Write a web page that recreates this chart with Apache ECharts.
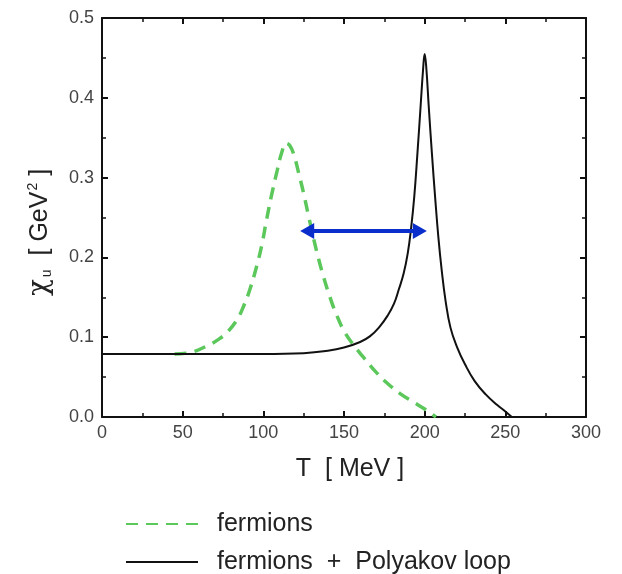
<!DOCTYPE html>
<html>
<head>
<meta charset="utf-8">
<script src="https://cdn.jsdelivr.net/npm/echarts@6/dist/echarts.min.js"></script>
<style>html,body{margin:0;padding:0;background:#fff}#c{width:622px;height:574px}</style>
</head>
<body>
<div id="c"></div>
<script>
// T [MeV], chi_u [GeV^2]
const fermionsT = [45,55,65,72,78,84,88,92,96,99,102,105,108.5,111.5,114,116.5,119,122,125,128,131,134,137,141,145,150,156,162,170,177,185,192,200,207];
const fermionsChi = [0.079,0.081,0.089,0.097,0.107,0.123,0.140,0.162,0.190,0.215,0.247,0.277,0.308,0.332,0.343,0.340,0.328,0.305,0.280,0.252,0.225,0.200,0.178,0.152,0.130,0.108,0.090,0.075,0.056,0.042,0.029,0.020,0.010,0.0];
const polyakovT = [0,50,100,125,140,150,160,166,172,177,181,184,187,189.5,191.5,193.5,195.5,197.5,199,200,201,202.5,204.5,206.5,208.5,210.5,213,216,220,225,231,238,245,250,254];
const polyakovChi = [0.079,0.079,0.079,0.080,0.083,0.087,0.094,0.101,0.113,0.127,0.142,0.160,0.180,0.205,0.235,0.275,0.330,0.390,0.435,0.455,0.438,0.390,0.330,0.275,0.225,0.185,0.145,0.112,0.088,0.066,0.045,0.028,0.015,0.007,0.0];
const arrowT = [127.2, 197.0];
const arrowChi = 0.233;
const seriesNames = ['fermions', 'fermions  +  Polyakov loop'];

const zip = (xs, ys) => xs.map((x, i) => [x, ys[i]]);
const font = "'Liberation Sans', Arial, Helvetica, sans-serif";
const chart = echarts.init(document.getElementById('c'));

const axisCommon = {
  axisLine: {show: true, onZero: false, lineStyle: {color: '#111', width: 2}},
  axisTick: {show: true, inside: true, length: 6, lineStyle: {color: '#111', width: 2}},
  minorTick: {show: true, splitNumber: 2, length: 4, lineStyle: {color: '#111', width: 1.5}},
  splitLine: {show: false}
};

chart.setOption({
  animation: false,
  backgroundColor: '#fff',
  grid: {left: 102, right: 36, top: 18, bottom: 157, containLabel: false},
  legend: {
    data: seriesNames,
    orient: 'vertical',
    left: 120,
    top: 506,
    height: 68,
    itemWidth: 72,
    itemHeight: 24,
    itemGap: 12,
    itemStyle: {opacity: 0},
    textStyle: {fontFamily: font, fontSize: 25, lineHeight: 26, color: '#222', padding: [0, 0, 0, 14]}
  },
  xAxis: [
    Object.assign({
      type: 'value', min: 0, max: 300, interval: 50, position: 'bottom',
      name: 'T  [ MeV ]', nameLocation: 'middle', nameGap: 40,
      nameTextStyle: {fontFamily: font, fontSize: 25, color: '#222', padding: [0, 0, 0, 12]},
      axisLabel: {fontFamily: font, fontSize: 18, color: '#444', margin: 7}
    }, axisCommon),
    Object.assign({
      type: 'value', min: 0, max: 300, interval: 50, position: 'top',
      axisLabel: {show: false}
    }, axisCommon)
  ],
  yAxis: [
    Object.assign({
      type: 'value', min: 0, max: 0.5, interval: 0.1, position: 'left',
      name: '{a|χ}{sub|u}  [ GeV{sup|2} ]', nameLocation: 'middle', nameGap: 48, nameRotate: 90,
      nameTextStyle: {
        fontFamily: font, fontSize: 25, color: '#222', padding: [0, 30, 0, 0],
        rich: {
          a: {fontFamily: 'DejaVu Serif, serif', fontSize: 28, color: '#222'},
          sub: {fontFamily: font, fontSize: 14, color: '#222', verticalAlign: 'bottom', padding: [14, 0, 0, 2]},
          sup: {fontFamily: font, fontSize: 14, color: '#222', verticalAlign: 'top', padding: [0, 0, 12, 1]}
        }
      },
      axisLabel: {fontFamily: font, fontSize: 18, color: '#444', margin: 8, formatter: v => v.toFixed(1)}
    }, axisCommon),
    Object.assign({
      type: 'value', min: 0, max: 0.5, interval: 0.1, position: 'right',
      axisLabel: {show: false}
    }, axisCommon)
  ],
  series: [
    {
      name: seriesNames[0], type: 'line', data: zip(fermionsT, fermionsChi),
      smooth: 0.45, showSymbol: false, symbol: 'none',
      lineStyle: {color: '#5cc85c', width: 3.5, type: [12, 8]},
      itemStyle: {color: '#5cc85c'}
    },
    {
      name: seriesNames[1], type: 'line', data: zip(polyakovT, polyakovChi),
      smooth: 0.45, showSymbol: false, symbol: 'none',
      lineStyle: {color: '#111', width: 2},
      itemStyle: {color: '#111'}
    },
    {
      name: 'arrow', type: 'line', data: [],
      markLine: {
        silent: true, symbol: ['triangle', 'triangle'], symbolSize: [16, 14],
        label: {show: false},
        itemStyle: {color: '#0a2ecc'},
        lineStyle: {color: '#0a2ecc', width: 4, type: 'solid'},
        data: [[{coord: [arrowT[0], arrowChi]}, {coord: [arrowT[1], arrowChi]}]]
      }
    }
  ]
});
</script>
</body>
</html>
